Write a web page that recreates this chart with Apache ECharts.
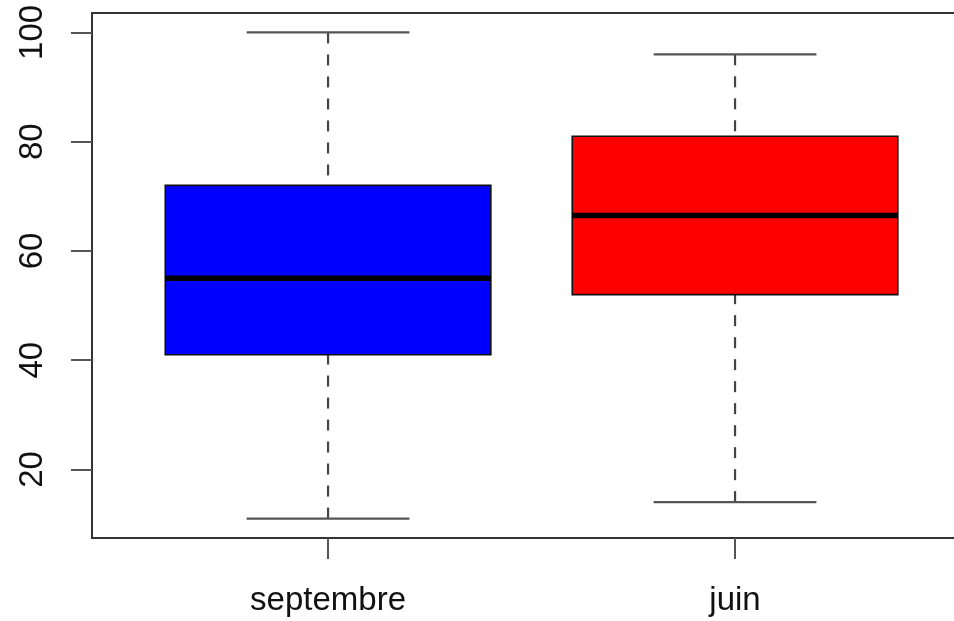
<!DOCTYPE html>
<html>
<head>
<meta charset="utf-8">
<script src="https://cdn.jsdelivr.net/npm/echarts@6/dist/echarts.min.js"></script>
<style>
  html, body { margin: 0; padding: 0; background: #fff; }
  #chart { width: 954px; height: 621px; }
</style>
</head>
<body>
<div id="chart"></div>
<script>
// Five-number summaries per group
const categories = ['septembre', 'juin'];
const lowWhisker = [11, 14];
const lowerQuartile = [41, 52];
const medians = [55, 66.5];
const upperQuartile = [72, 81];
const highWhisker = [100, 96];
const boxColors = ['#0000FF', '#FF0000'];
const yTicks = [20, 40, 60, 80, 100];

const FONT = 'Liberation Sans, Arial, Helvetica, sans-serif';

const rows = categories.map((c, i) => [
  i + 1, lowWhisker[i], lowerQuartile[i], medians[i], upperQuartile[i], highWhisker[i]
]);

function renderBox(params, api) {
  const x = api.value(0);
  const lo = api.value(1), q1 = api.value(2), med = api.value(3),
        q3 = api.value(4), hi = api.value(5);
  const idx = params.dataIndex;

  const boxL = api.coord([x - 0.4, q3]);
  const boxR = api.coord([x + 0.4, q1]);
  const capL = api.coord([x - 0.2, hi]);
  const capR = api.coord([x + 0.2, hi]);
  const capLowL = api.coord([x - 0.2, lo]);
  const capLowR = api.coord([x + 0.2, lo]);
  const pHi = api.coord([x, hi]);
  const pQ3 = api.coord([x, q3]);
  const pQ1 = api.coord([x, q1]);
  const pLo = api.coord([x, lo]);
  const medL = api.coord([x - 0.4, med]);
  const medR = api.coord([x + 0.4, med]);

  const whiskerStyle = { stroke: '#444', lineWidth: 2.2, lineDash: [11, 11] };
  const capStyle = { stroke: '#555', lineWidth: 2.2 };

  return {
    type: 'group',
    children: [
      { type: 'line', shape: { x1: pHi[0], y1: pHi[1], x2: pQ3[0], y2: pQ3[1] }, style: whiskerStyle },
      { type: 'line', shape: { x1: pLo[0], y1: pLo[1], x2: pQ1[0], y2: pQ1[1] }, style: whiskerStyle },
      { type: 'line', shape: { x1: capL[0], y1: capL[1], x2: capR[0], y2: capR[1] }, style: capStyle },
      { type: 'line', shape: { x1: capLowL[0], y1: capLowL[1], x2: capLowR[0], y2: capLowR[1] }, style: capStyle },
      {
        type: 'rect',
        shape: { x: boxL[0], y: boxL[1], width: boxR[0] - boxL[0], height: boxR[1] - boxL[1] },
        style: { fill: boxColors[idx], stroke: '#111', lineWidth: 1.6 }
      },
      { type: 'line', shape: { x1: medL[0], y1: medL[1], x2: medR[0], y2: medR[1] },
        style: { stroke: '#000', lineWidth: 5.5 } }
    ]
  };
}

const frameLine = { show: true, lineStyle: { color: '#333', width: 2 } };

const chart = echarts.init(document.getElementById('chart'), null, { renderer: 'canvas' });
chart.setOption({
  animation: false,
  backgroundColor: '#fff',
  // the plot frame runs past the right edge of the page, so the x range
  // is cut off where the canvas ends
  grid: { left: 92, top: 13, right: 0, height: 525 },
  xAxis: [{
    type: 'value',
    min: 0.42, max: 2.538,
    axisLine: frameLine,
    splitLine: { show: false },
    axisTick: { show: true, length: 21, customValues: [1, 2], lineStyle: { color: '#555', width: 2 } },
    axisLabel: {
      customValues: [1, 2],
      formatter: v => categories[Math.round(v) - 1],
      fontFamily: FONT, fontSize: 33, color: '#111', margin: 46
    }
  }, {
    type: 'value',
    position: 'top',
    min: 0.42, max: 2.538,
    axisLine: frameLine,
    axisTick: { show: false },
    axisLabel: { show: false },
    splitLine: { show: false }
  }],
  yAxis: {
    type: 'value',
    min: 7.44, max: 103.56,
    axisLine: frameLine,
    splitLine: { show: false },
    axisTick: { show: true, length: 21, customValues: yTicks, lineStyle: { color: '#555', width: 2 } },
    axisLabel: {
      customValues: yTicks,
      rotate: 90,
      fontFamily: FONT, fontSize: 33, color: '#111', margin: 43
    }
  },
  series: [{
    type: 'custom',
    renderItem: renderBox,
    encode: { x: 0, y: [1, 2, 3, 4, 5] },
    data: rows,
    clip: false
  }]
});
</script>
</body>
</html>
